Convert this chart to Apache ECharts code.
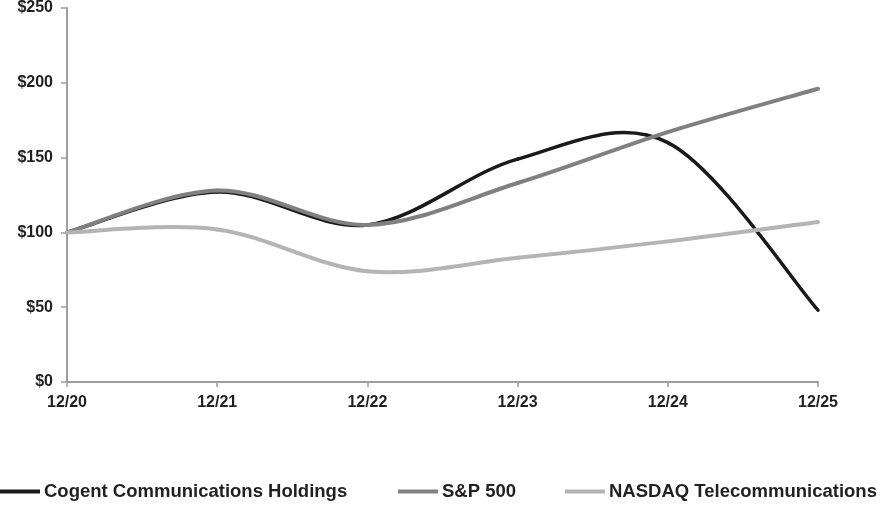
<!DOCTYPE html>
<html>
<head>
<meta charset="utf-8">
<script src="https://cdn.jsdelivr.net/npm/echarts@6/dist/echarts.min.js"></script>
<style>
  html, body { margin: 0; padding: 0; background: #fff; }
  #chart { width: 881px; height: 506px; }
</style>
</head>
<body>
<div id="chart"></div>
<script>
// 年份
var years = ['12/20', '12/21', '12/22', '12/23', '12/24', '12/25'];
// 各指数 (累计回报, $)
var cogent = [100, 127, 105, 149, 160, 48];
var sp500 = [100, 128, 105, 133, 167, 196];
var nasdaqTel = [100, 102, 74, 83, 94, 107];
var names = ['Cogent Communications Holdings', 'S&P 500', 'NASDAQ Telecommunications'];

var font = '"Liberation Sans", Arial, sans-serif';
var linePath = 'path://M0,0 L10,0 L10,1 L0,1 Z';

// Excel 风格的平滑曲线：每段用相邻点算控制点
function splineSeries(name, values, color, width, z) {
  var n = values.length;
  return {
    name: name,
    type: 'custom',
    z: z,
    data: values.map(function (v, i) { return [i, v]; }),
    encode: { x: 0, y: 1 },
    itemStyle: { color: color },
    silent: true,
    renderItem: function (params, api) {
      var i = params.dataIndex;
      if (i >= n - 1) return;
      var pt = function (k) {
        k = Math.max(0, Math.min(n - 1, k));
        return api.coord([k, values[k]]);
      };
      var p0 = pt(i - 1), p1 = pt(i), p2 = pt(i + 1), p3 = pt(i + 2);
      return {
        type: 'bezierCurve',
        shape: {
          x1: p1[0], y1: p1[1],
          x2: p2[0], y2: p2[1],
          cpx1: p1[0] + (p2[0] - p0[0]) / 6,
          cpy1: p1[1] + (p2[1] - p0[1]) / 6,
          cpx2: p2[0] - (p3[0] - p1[0]) / 6,
          cpy2: p2[1] - (p3[1] - p1[1]) / 6
        },
        style: { stroke: color, lineWidth: width, fill: null, lineCap: 'round' }
      };
    }
  };
}

// 图例分开放，位置跟原图对齐
function legendAt(name, left) {
  return {
    left: left,
    top: 482,
    padding: 0,
    itemWidth: 42,
    itemHeight: 4,
    icon: linePath,
    textStyle: { fontFamily: font, fontWeight: 'bold', fontSize: 18.5, color: '#231f20', padding: [0, 0, 0, -2] },
    data: [name]
  };
}

var chart = echarts.init(document.getElementById('chart'));
chart.setOption({
  animation: false,
  grid: { left: 67, right: 63, top: 8, bottom: 124 },
  legend: [
    legendAt(names[0], 0),
    legendAt(names[1], 398),
    legendAt(names[2], 565)
  ],
  xAxis: {
    type: 'category',
    boundaryGap: false,
    data: years,
    axisLine: { lineStyle: { color: '#9d9d9d', width: 2 } },
    axisTick: { show: true, length: 5, lineStyle: { color: '#9d9d9d', width: 1.5 } },
    axisLabel: { fontFamily: font, fontWeight: 'bold', fontSize: 16, color: '#231f20', margin: 13 }
  },
  yAxis: {
    type: 'value',
    min: 0,
    max: 250,
    interval: 50,
    splitLine: { show: false },
    axisLine: { show: true, lineStyle: { color: '#9d9d9d', width: 2 } },
    axisTick: { show: true, length: 6, lineStyle: { color: '#9d9d9d', width: 1.5 } },
    axisLabel: { fontFamily: font, fontWeight: 'bold', fontSize: 16, color: '#231f20', margin: 14,
      formatter: function (v) { return '$' + v; } }
  },
  series: [
    splineSeries(names[0], cogent, '#1a1a1a', 3.5, 2),
    splineSeries(names[1], sp500, '#808080', 4, 3),
    splineSeries(names[2], nasdaqTel, '#b4b4b4', 4, 4)
  ]
});
</script>
</body>
</html>
